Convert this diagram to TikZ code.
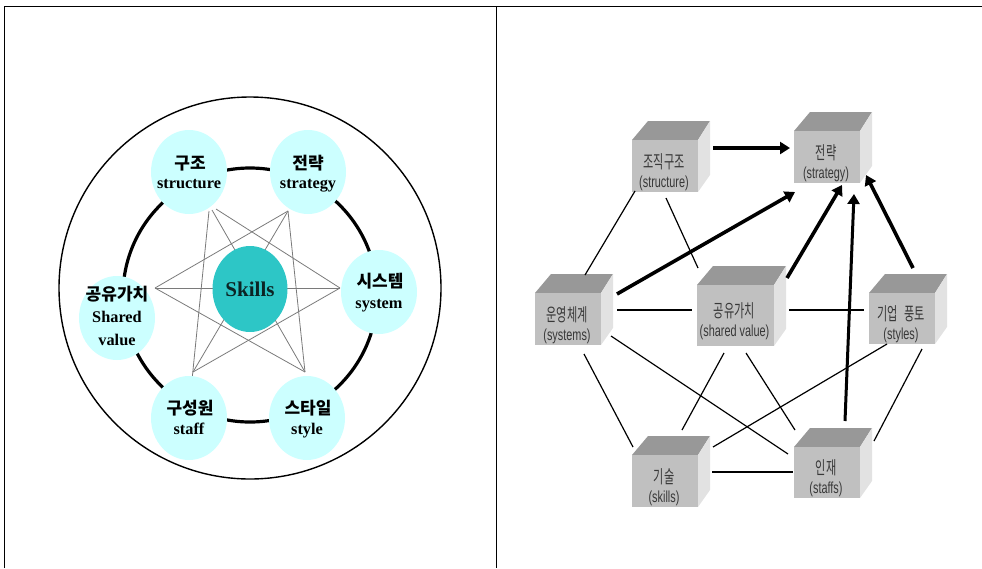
\documentclass[tikz,border=0pt]{standalone}
\usepackage{fontspec}
\setmainfont{Liberation Serif}
\newfontfamily\krfont{Noto Sans CJK KR}
\newfontfamily\cubeen[FakeStretch=0.68]{Liberation Sans}
\newfontfamily\cubekr[FakeStretch=0.62]{Noto Sans CJK KR}
\usetikzlibrary{shapes.geometric,arrows.meta,calc}
\definecolor{satfill}{HTML}{CCFFFF}
\definecolor{skillfill}{HTML}{2DC6C6}
\definecolor{cubefrontc}{HTML}{C0C0C0}
\definecolor{cubetopc}{HTML}{989898}
\definecolor{cubesidec}{HTML}{E2E2E2}
\definecolor{cubetextc}{HTML}{383838}
\definecolor{starline}{HTML}{7A7A7A}
\definecolor{skilltext}{HTML}{0C2424}

\newcommand{\cubebox}[7]{%
  \pgfmathsetmacro{\cbR}{#2+#4}%
  \pgfmathsetmacro{\cbB}{#3+#5}%
  \pgfmathsetmacro{\cbT}{#3-19}%
  \pgfmathsetmacro{\cbL}{#2+16}%
  \pgfmathsetmacro{\cbRR}{#2+#4+12}%
  \pgfmathsetmacro{\cbRB}{#3+#5-17}%
  \pgfmathsetmacro{\cbX}{#2+#4/2}%
  \pgfmathsetmacro{\cbY}{#3+#5/2}%
  \fill[cubetopface] (#2,#3) -- (\cbR,#3) -- (\cbRR,\cbT) -- (\cbL,\cbT) -- cycle;
  \fill[cubesideface] (\cbR,#3) -- (\cbRR,\cbT) -- (\cbRR,\cbRB) -- (\cbR,\cbB) -- cycle;
  \node[cubefront, minimum width=#4pt, minimum height=#5pt] (#1) at (\cbX,\cbY) {};
  \node[cubekrtext] (#1-kr) at ($(#1.center)+(-1,-4.5)$) {#6};
  \node[cubeentext] (#1-en) at ($(#1.center)+(-1,17)$) {#7};
}

\begin{document}
\begin{tikzpicture}[x=1pt,y=-1pt,
  frameline/.style={draw=black,line width=0.9pt},
  sat/.style={ellipse,fill=satfill,minimum width=76pt,minimum height=84pt,inner sep=0pt},
  krlab/.style={inner sep=0pt,font=\krfont\bfseries\fontsize{17}{19}\selectfont,text height=14pt,text depth=0pt},
  enlab/.style={inner sep=0pt,font=\bfseries\fontsize{16.3}{18}\selectfont,text height=11pt,text depth=3pt},
  starln/.style={draw=starline,line width=0.8pt},
  cubetopface/.style={fill=cubetopc},
  cubesideface/.style={fill=cubesidec},
  cubefront/.style={rectangle,fill=cubefrontc,inner sep=0pt,outer sep=0pt},
  cubekrtext/.style={inner sep=0pt,text=cubetextc,font=\cubekr\fontsize{18}{20}\selectfont,text height=13.5pt,text depth=0pt},
  cubeentext/.style={inner sep=0pt,text=cubetextc,font=\cubeen\fontsize{16}{18}\selectfont,text height=11.7pt,text depth=3.4pt},
  thinln/.style={draw=black,line width=1.2pt},
  thickarr/.style={draw=black,line width=3.6pt,-{Triangle[length=10pt,width=12pt]}}
]
\useasboundingbox (0,0) rectangle (982,568);

% frame
\draw[frameline] (4,568) -- (4,6) -- (982,6);
\draw[frameline] (496,6) -- (496,568);

% ================= left panel =================
\node[circle,draw=black,line width=1.4pt,minimum size=382pt,inner sep=0pt] (outer) at (250,288) {};
\node[circle,draw=black,line width=3.2pt,minimum size=254pt,inner sep=0pt] (ring) at (250,295) {};

% star endpoints
\coordinate (pStrA) at (209,211);
\coordinate (pStrB) at (212,210);
\coordinate (pStrC) at (216,209);
\coordinate (pStg) at (288,211);
\coordinate (pSha) at (155,288);
\coordinate (pSys) at (340,288);
\coordinate (pStfA) at (192,380);
\coordinate (pStfB) at (193,372);
\coordinate (pSty) at (305,372);

\draw[starln] (pStrA) -- (pStfA);
\draw[starln] (pStrB) -- (pSty);
\draw[starln] (pStrC) -- (pSys);
\draw[starln] (pStg) -- (pSha);
\draw[starln] (pStg) -- (pStfB);
\draw[starln] (pStg) -- (pSty);
\draw[starln] (pSha) -- (pSys);
\draw[starln] (pSha) -- (pSty);
\draw[starln] (pSys) -- (pStfB);

% satellites
\node[sat] (sStructure) at (189,172) {};
\node[sat] (sStrategy) at (308,172) {};
\node[sat] (sSystem) at (379,292) {};
\node[sat] (sStyle) at (307,418) {};
\node[sat] (sStaff) at (189,418) {};
\node[sat] (sShared) at (117,318) {};

\node[ellipse,fill=skillfill,minimum width=75pt,minimum height=86pt,inner sep=0pt,
      text=skilltext,font=\bfseries\fontsize{21}{24}\selectfont,text height=14pt,text depth=0pt] (skills) at (250,289) {Skills};

\node[krlab] (tStructureKr) at (190,162) {구조};
\node[enlab] (tStructureEn) at (189,184) {structure};
\node[krlab] (tStrategyKr) at (308,162) {전략};
\node[enlab] (tStrategyEn) at (308,184) {strategy};
\node[krlab] (tSystemKr) at (380,280) {시스템};
\node[enlab] (tSystemEn) at (379,304) {system};
\node[krlab] (tSharedKr) at (117,293) {공유가치};
\node[enlab] (tSharedEn) at (117,318) {Shared};
\node[enlab] (tSharedEnB) at (117,341) {value};
\node[krlab] (tStaffKr) at (190,407) {구성원};
\node[enlab] (tStaffEn) at (189,430) {staff};
\node[krlab] (tStyleKr) at (308,407) {스타일};
\node[enlab] (tStyleEn) at (307,430) {style};

% ================= right panel =================
\cubebox{cStructure}{632}{140}{66}{52}{조직구조}{(structure)}
\cubebox{cStrategy}{794}{131}{66}{52}{전략}{(strategy)}
\cubebox{cSystems}{535}{293}{66}{52}{운영체계}{(systems)}
\cubebox{cShared}{697}{285}{77}{61}{공유가치}{(shared value)}
\cubebox{cStyles}{869}{293}{66}{51}{기업\hspace{6pt}풍토}{(styles)}
\cubebox{cSkills}{632}{455}{66}{52}{기술}{(skills)}
\cubebox{cStaffs}{794}{447}{66}{51}{인재}{(staffs)}

% connector end points
\coordinate (l1a) at (635,191);  \coordinate (l1b) at (585,275);
\coordinate (l2a) at (666,198);  \coordinate (l2b) at (698,268);
\coordinate (l3a) at (617,310);  \coordinate (l3b) at (692,310);
\coordinate (l4a) at (789,310);  \coordinate (l4b) at (864,310);
\coordinate (l5a) at (584,354);  \coordinate (l5b) at (633,447);
\coordinate (l6a) at (611,336);  \coordinate (l6b) at (788,454);
\coordinate (l7a) at (724,353);  \coordinate (l7b) at (682,430);
\coordinate (l8a) at (746,353);  \coordinate (l8b) at (795,430);
\coordinate (l9a) at (887,344);  \coordinate (l9b) at (713,447);
\coordinate (l10a) at (922,349); \coordinate (l10b) at (874,441);
\coordinate (l11a) at (712,472); \coordinate (l11b) at (793,472);

\draw[thinln] (l1a) -- (l1b);
\draw[thinln] (l2a) -- (l2b);
\draw[thinln] (l3a) -- (l3b);
\draw[thinln] (l4a) -- (l4b);
\draw[thinln] (l5a) -- (l5b);
\draw[thinln] (l6a) -- (l6b);
\draw[thinln] (l7a) -- (l7b);
\draw[thinln] (l8a) -- (l8b);
\draw[thinln] (l9a) -- (l9b);
\draw[thinln] (l10a) -- (l10b);
\draw[thinln] (l11a) -- (l11b);

\coordinate (aAs) at (713,148); \coordinate (aAe) at (790,148);
\coordinate (aBs) at (617,294); \coordinate (aBe) at (795,192);
\coordinate (aCs) at (787,278); \coordinate (aCe) at (842,185);
\coordinate (aDs) at (845,421); \coordinate (aDe) at (854,194);
\coordinate (aEs) at (913,268); \coordinate (aEe) at (866,175);

\draw[thickarr] (aAs) -- (aAe);
\draw[thickarr] (aBs) -- (aBe);
\draw[thickarr] (aCs) -- (aCe);
\draw[thickarr,line width=3pt] (aDs) -- (aDe);
\draw[thickarr] (aEs) -- (aEe);
\end{tikzpicture}
\end{document}
